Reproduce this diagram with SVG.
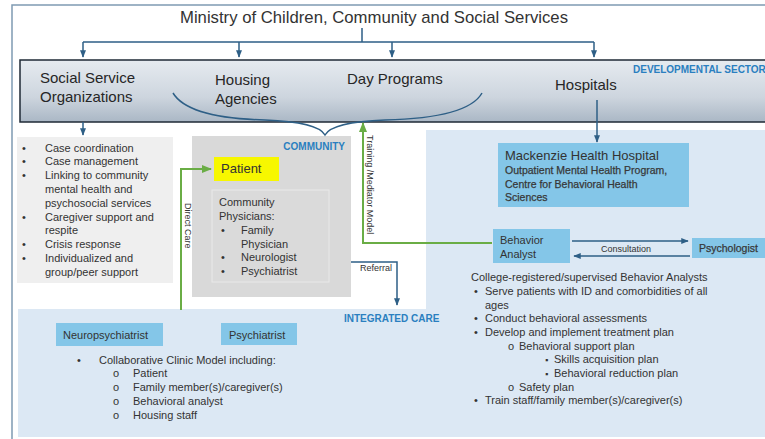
<svg xmlns="http://www.w3.org/2000/svg" width="765" height="439" viewBox="0 0 765 439">
  <defs>
    <linearGradient id="barGrad" x1="0" y1="0" x2="0" y2="1">
      <stop offset="0" stop-color="#e6ebf0"/>
      <stop offset="0.6" stop-color="#cdd5de"/>
      <stop offset="1" stop-color="#aab7c5"/>
    </linearGradient>
    <marker id="arrBlue" viewBox="0 0 10 10" refX="9" refY="5" markerWidth="5" markerHeight="5" orient="auto">
      <path d="M0,1 L10,5 L0,9 Z" fill="#2e5f86"/>
    </marker>
    <marker id="arrGreen" viewBox="0 0 10 10" refX="9" refY="5" markerWidth="5" markerHeight="5" orient="auto">
      <path d="M0,1 L10,5 L0,9 Z" fill="#6aad45"/>
    </marker>
    <style>
      .t { font-family: "Liberation Sans", Arial, sans-serif; fill: #333333; }
      .bar { font-size: 15px; fill: #262626; }
      .body { font-size: 11px; }
      .hdr { font-family: "Liberation Sans", Arial, sans-serif; font-weight: bold; fill: #2a7fc0; font-size: 10px; }
      .box { fill: #84c6e8; }
      .blue { fill: none; stroke: #2e5f86; stroke-width: 1.5; }
      .green { fill: none; stroke: #6aad45; stroke-width: 2; }
      .small { font-size: 9px; }
      .sub { font-size: 10.5px; fill: #383838; stroke: #383838; stroke-width: 0.25; }
    </style>
  </defs>

  <rect width="765" height="439" fill="#ffffff"/>
  <!-- outer frame -->
  <rect x="12" y="5" width="800" height="500" fill="none" stroke="#7f9bb3" stroke-width="1.5"/>

  <!-- light blue integrated care area -->
  <path d="M426,130 H770 V437 H18 V309 H426 Z" fill="#dce8f4"/>

  <!-- title -->
  <g id="ministry">
    <text class="t" x="374" y="23" font-size="17" text-anchor="middle" fill="#262626" textLength="388" lengthAdjust="spacingAndGlyphs">Ministry of Children, Community and Social Services</text>
  </g>

  <!-- developmental sector bar -->
  <g id="sector-bar">
    <rect x="20" y="60" width="760" height="62" fill="url(#barGrad)" stroke="#1f2a36" stroke-width="1.5"/>
    <text class="t bar" x="40" y="83">Social Service</text>
    <text class="t bar" x="40" y="102">Organizations</text>
    <text class="t bar" x="215" y="85">Housing</text>
    <text class="t bar" x="215" y="104">Agencies</text>
    <text class="t bar" x="347" y="84">Day Programs</text>
    <text class="t bar" x="555" y="90">Hospitals</text>
    <text class="hdr" x="633" y="73">DEVELOPMENTAL SECTOR</text>
  </g>

  <!-- social services list -->
  <g id="social-services">
    <rect x="17" y="137" width="156" height="146" fill="#efefef"/>
    <g class="t body">
      <text x="22" y="152">•</text><text x="45" y="152">Case coordination</text>
      <text x="22" y="165">•</text><text x="45" y="165">Case management</text>
      <text x="22" y="179">•</text><text x="45" y="179">Linking to community</text>
      <text x="45" y="193">mental health and</text>
      <text x="45" y="207">psychosocial services</text>
      <text x="22" y="221">•</text><text x="45" y="221">Caregiver support and</text>
      <text x="45" y="234">respite</text>
      <text x="22" y="248">•</text><text x="45" y="248">Crisis response</text>
      <text x="22" y="262">•</text><text x="45" y="262">Individualized and</text>
      <text x="45" y="276">group/peer support</text>
    </g>
  </g>

  <!-- community -->
  <g id="community">
    <rect x="192" y="136" width="159" height="161" fill="#d9d9d9"/>
    <text class="hdr" x="345" y="150" text-anchor="end" font-size="10.5">COMMUNITY</text>
  </g>

  <g id="patient">
    <rect x="214" y="157" width="65" height="24" fill="#f7f700"/>
    <text class="t" x="221" y="173" font-size="13" fill="#262626">Patient</text>
  </g>

  <g id="community-physicians">
    <rect x="212" y="190" width="117" height="92" fill="#dadada" stroke="#e9e9e9" stroke-width="1"/>
    <g class="t body">
      <text x="219" y="206">Community</text>
      <text x="219" y="220">Physicians:</text>
      <text x="221" y="234">•</text><text x="241" y="234">Family</text>
      <text x="241" y="248">Physician</text>
      <text x="221" y="261">•</text><text x="241" y="261">Neurologist</text>
      <text x="221" y="275">•</text><text x="241" y="275">Psychiatrist</text>
    </g>
  </g>

  <!-- hospital -->
  <g id="mackenzie">
    <rect class="box" x="498" y="143" width="191" height="64"/>
    <text class="t" x="505" y="160" font-size="13" fill="#262626">Mackenzie Health Hospital</text>
    <text class="t sub" x="505" y="174">Outpatient Mental Health Program,</text>
    <text class="t sub" x="505" y="188">Centre for Behavioral Health</text>
    <text class="t sub" x="505" y="201">Sciences</text>
  </g>

  <g id="behavior-analyst">
    <rect class="box" x="493" y="229" width="77" height="34"/>
    <text class="t body" x="500" y="244">Behavior</text>
    <text class="t body" x="500" y="258">Analyst</text>
  </g>

  <g id="psychologist">
    <rect class="box" x="692" y="238" width="80" height="20"/>
    <text class="t sub" x="699" y="252" font-size="11">Psychologist</text>
  </g>

  <g id="behavior-analyst-notes" class="t body">
    <text x="471" y="281">College-registered/supervised Behavior Analysts</text>
    <text x="474" y="295">•</text><text x="485" y="295">Serve patients with ID and comorbidities of all</text>
    <text x="485" y="309">ages</text>
    <text x="474" y="322">•</text><text x="485" y="322">Conduct behavioral assessments</text>
    <text x="474" y="336">•</text><text x="485" y="336">Develop and implement treatment plan</text>
    <text x="508" y="350">o</text><text x="519" y="350">Behavioral support plan</text>
    <text x="545" y="363" font-size="9">▪</text><text x="554" y="363">Skills acquisition plan</text>
    <text x="545" y="377" font-size="9">▪</text><text x="554" y="377">Behavioral reduction plan</text>
    <text x="508" y="391">o</text><text x="519" y="391">Safety plan</text>
    <text x="474" y="404">•</text><text x="485" y="404">Train staff/family member(s)/caregiver(s)</text>
  </g>

  <!-- integrated care -->
  <text class="hdr" x="344" y="322" font-size="10.5">INTEGRATED CARE</text>

  <g id="neuropsychiatrist">
    <rect class="box" x="56" y="323" width="107" height="23"/>
    <text class="t body" x="63" y="339">Neuropsychiatrist</text>
  </g>

  <g id="psychiatrist">
    <rect class="box" x="221" y="323" width="76" height="22"/>
    <text class="t body" x="229" y="339">Psychiatrist</text>
  </g>

  <g id="clinic-model" class="t body">
    <text x="77" y="364">•</text><text x="99" y="364">Collaborative Clinic Model including:</text>
    <text x="113" y="377">o</text><text x="133" y="377">Patient</text>
    <text x="113" y="391">o</text><text x="133" y="391">Family member(s)/caregiver(s)</text>
    <text x="113" y="405">o</text><text x="133" y="405">Behavioral analyst</text>
    <text x="113" y="419">o</text><text x="133" y="419">Housing staff</text>
  </g>

  <!-- connectors -->
  <g id="connectors">
    <path class="blue" d="M362,28 V42 M83,42 H594"/>
    <path class="blue" d="M83,42 V57" marker-end="url(#arrBlue)"/>
    <path class="blue" d="M239,42 V57" marker-end="url(#arrBlue)"/>
    <path class="blue" d="M392,42 V57" marker-end="url(#arrBlue)"/>
    <path class="blue" d="M594,42 V57" marker-end="url(#arrBlue)"/>
    <!-- brace grouping housing and day programs -->
    <path class="blue" d="M173,93 Q188,118 265,120 Q318,122 325,135 Q332,122 385,120 Q468,118 482,93"/>
    <path class="blue" d="M83,122 V135" marker-end="url(#arrBlue)"/>
    <path class="blue" d="M597,100 V142" marker-end="url(#arrBlue)"/>
    <!-- referral -->
    <path class="blue" d="M351,262 H397 V305" marker-end="url(#arrBlue)"/>
    <text class="t small" x="360" y="271">Referral</text>
    <!-- consultation -->
    <path class="blue" d="M572,241 H688" marker-end="url(#arrBlue)"/>
    <path class="blue" d="M690,256 H574" marker-end="url(#arrBlue)"/>
    <text class="t small" x="601" y="252">Consultation</text>
    <!-- direct care -->
    <path class="green" d="M181,310 V169 H211" marker-end="url(#arrGreen)"/>
    <text class="t small" transform="translate(185,203) rotate(90)">Direct Care</text>
    <!-- training / mediator model -->
    <path class="green" d="M492,243 H363 V123" marker-end="url(#arrGreen)"/>
    <text class="t small" transform="translate(367,135) rotate(90)">Training /Mediator Model</text>
  </g>
</svg>
